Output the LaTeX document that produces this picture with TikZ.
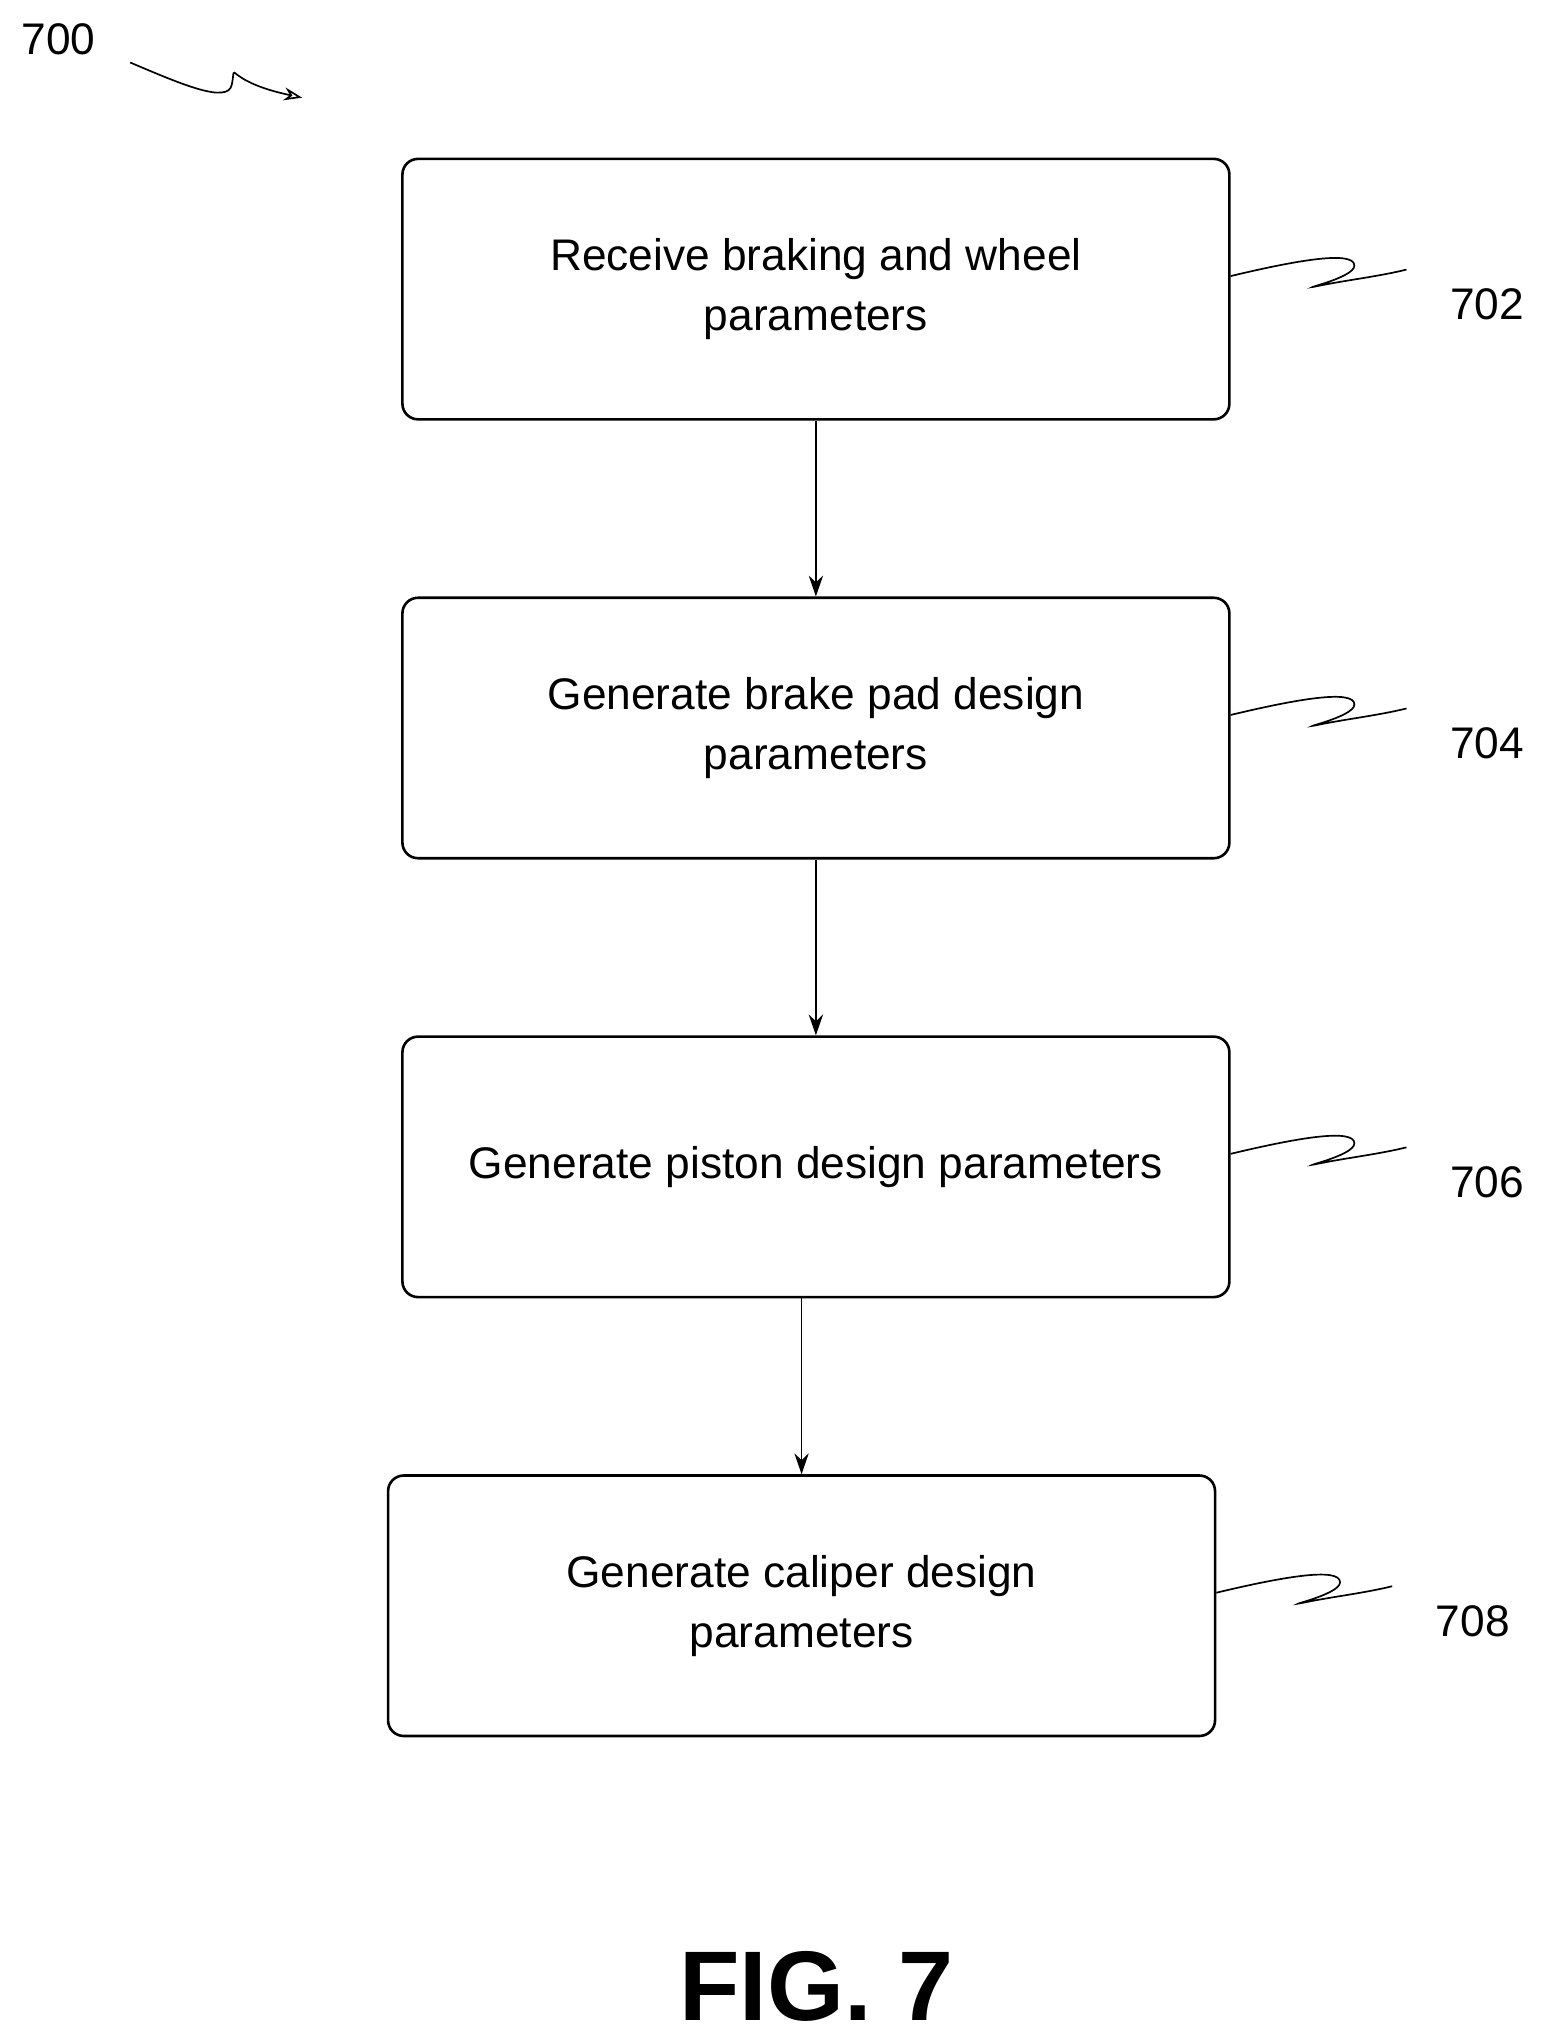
\documentclass[tikz,border=0pt]{standalone}
\usepackage{fontspec}
\setmainfont{Liberation Sans}
\usetikzlibrary{arrows.meta}
\begin{document}
\begin{tikzpicture}[x=1pt,y=-1pt,
 box/.style={draw,line width=2pt,rounded corners=12pt,minimum width=635pt,minimum height=200pt,align=center,font=\fontsize{34}{46}\selectfont},
 arr/.style={line width=1.3pt,-{Stealth[length=16pt,width=11pt]}},
 sq/.style={line width=1.3pt},
 lbl/.style={font=\fontsize{34}{40}\selectfont}]
\useasboundingbox (0,0) rectangle (1190,1568);
\node[box] (b1) at (626.5,222) {Receive braking and wheel\\parameters};
\node[box] (b2) at (626.5,559) {Generate brake pad design\\parameters};
\node[box] (b3) at (626.5,896) {Generate piston design parameters};
\node[box] (b4) at (615.5,1233) {Generate caliper design\\parameters};
\draw[arr] (b1.south) -- (b2.north);
\draw[arr] (b2.south) -- (b3.north);
\draw[arr] (b3.south -| b4.north) -- (b4.north);
\foreach \b/\t/\dy in {b1/702/0,b2/704/0,b3/706/0,b4/708/0}{
 \node[lbl,anchor=west] (l\t) at ([xshift=165pt,yshift=-12pt]\b.east) {\t};
 \coordinate (s\t) at ([yshift=10pt]\b.east);
 \draw[sq] (s\t) .. controls +(50,-12) and +(0,-12) .. ++(95,-8) .. controls +(0,10) and +(-25,5) .. ++(-25,15) .. controls +(20,-4) and +(-20,5) .. ++(65,-12);
}
\node[lbl] (l700) at (45,30) {700};
\coordinate (t700) at (232,75);
\draw[sq,-{Stealth[open,length=14pt,width=10pt]}] (100,48) .. controls (140,65) and (175,80) .. (178,65) .. controls (182,45) and (170,62) .. (t700);
\node[font=\fontsize{76}{80}\selectfont\bfseries] (fig) at (627,1525) {FIG. 7};
\end{tikzpicture}
\end{document}
